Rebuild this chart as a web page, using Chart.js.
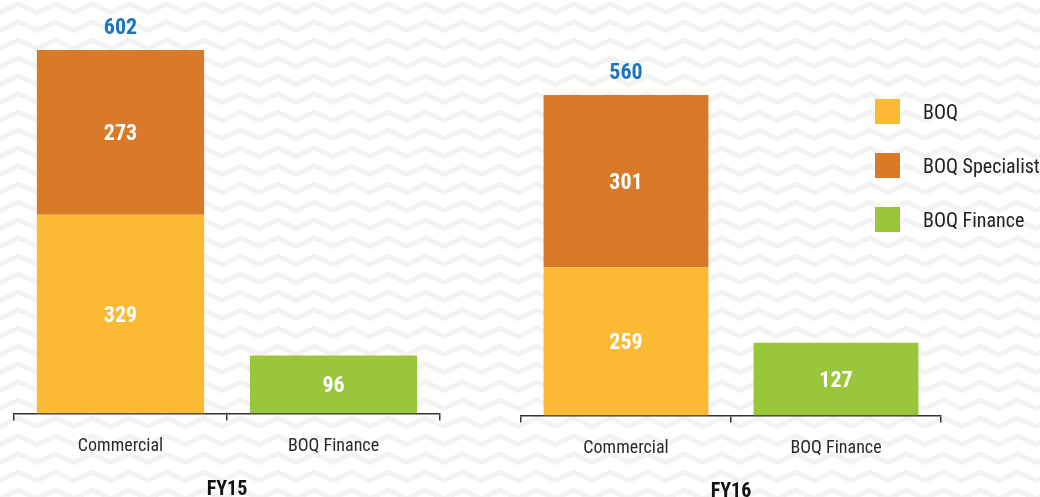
<!DOCTYPE html>
<html lang="en">
<head>
<meta charset="UTF-8">
<title>BOQ Commercial</title>
<script src="https://cdn.jsdelivr.net/npm/chart.js"></script>
<style>
  html, body { margin: 0; padding: 0; }
  body {
    width: 1040px; height: 497px; overflow: hidden; position: relative;
    background-color: #fff;
    background-image: url("data:image/svg+xml,%3Csvg xmlns='http://www.w3.org/2000/svg' width='37' height='18'%3E%3Cpath d='M-1 13 L18.5 4 L38 13' stroke='%23f3f3f3' stroke-width='5' fill='none'/%3E%3C/svg%3E");
    font-family: "Roboto Condensed", "Liberation Sans", sans-serif;
  }
  .panel { position: absolute; }
  #legend { position: absolute; left: 875px; top: 99px; }
  .item { display: flex; align-items: center; height: 25px; margin-bottom: 29px; }
  .box { width: 25px; height: 25px; margin-right: 23px; }
  .item span { font-size: 20px; color: #222; white-space: nowrap; }
</style>
</head>
<body>
<div class="panel" style="left:0;top:0;width:460px;height:500px;"><canvas id="fy15"></canvas></div>
<div class="panel" style="left:500px;top:7px;width:460px;height:495px;"><canvas id="fy16"></canvas></div>
<div id="legend"></div>

<script>
const categories = ["Commercial", "BOQ Finance"];
const seriesNames = ["BOQ", "BOQ Specialist", "BOQ Finance"];
const seriesColors = ["#FBB934", "#D97A29", "#99C63A"];

// FY15
const fy15Boq = [329, null];
const fy15Specialist = [273, null];
const fy15Finance = [null, 96];
const fy15Total = [602, null];

// FY16
const fy16Boq = [259, null];
const fy16Specialist = [301, null];
const fy16Finance = [null, 127];
const fy16Total = [560, null];

const FONT = '"Roboto Condensed", "Liberation Sans", sans-serif';

// draws the numbers inside the bars and the totals on top
const valueLabels = {
  id: 'valueLabels',
  afterDatasetsDraw(chart) {
    const ctx = chart.ctx;
    ctx.save();
    ctx.textAlign = 'center';
    ctx.textBaseline = 'middle';
    ctx.font = 'bold 22px ' + FONT;
    chart.data.datasets.forEach((ds, i) => {
      const meta = chart.getDatasetMeta(i);
      meta.data.forEach((bar, j) => {
        const v = ds.data[j];
        if (v == null) return;
        ctx.fillStyle = '#fff';
        ctx.fillText(v, bar.x, (bar.y + bar.base) / 2 + 2);
      });
    });
    const totals = chart.options.plugins.valueLabels.totals;
    const topMeta = chart.getDatasetMeta(1);
    totals.forEach((t, j) => {
      if (t == null) return;
      const bar = topMeta.data[j];
      ctx.fillStyle = '#1F74BE';
      ctx.fillText(t, bar.x, bar.y - 22);
    });
    ctx.restore();
  }
};

function makeChart(id, boq, spec, fin, totals, title, padTop, padLeft, padRight) {
  new Chart(document.getElementById(id), {
    type: 'bar',
    data: {
      labels: categories,
      datasets: [
        { label: seriesNames[0], data: boq, backgroundColor: seriesColors[0] },
        { label: seriesNames[1], data: spec, backgroundColor: seriesColors[1] },
        { label: seriesNames[2], data: fin, backgroundColor: seriesColors[2] }
      ]
    },
    options: {
      responsive: true,
      maintainAspectRatio: false,
      animation: false,
      layout: { padding: { top: padTop, left: padLeft, right: padRight, bottom: 0 } },
      datasets: { bar: { categoryPercentage: 1, barPercentage: 0.785 } },
      plugins: {
        legend: { display: false },
        tooltip: { enabled: false },
        valueLabels: { totals: totals }
      },
      scales: {
        x: {
          stacked: true,
          border: { display: true, color: '#333', width: 1.5 },
          grid: { offset: true, drawOnChartArea: false, tickLength: 7, color: '#333', lineWidth: 1.5 },
          ticks: { color: '#2a2a2a', padding: 15, font: { family: FONT, size: 18 } },
          title: {
            display: true, text: title, color: '#111',
            font: { family: FONT, size: 20, weight: 'bold', lineHeight: 1 },
            padding: { top: 8, bottom: 0 }
          }
        },
        y: { stacked: true, display: false, min: 0, max: totals[0] }
      }
    },
    plugins: [valueLabels]
  });
}

makeChart('fy15', fy15Boq, fy15Specialist, fy15Finance, fy15Total, 'FY15', 50, 14, 20);
makeChart('fy16', fy16Boq, fy16Specialist, fy16Finance, fy16Total, 'FY16', 88, 21, 19);

const legend = document.getElementById('legend');
seriesNames.forEach((n, i) => {
  const d = document.createElement('div');
  d.className = 'item';
  d.innerHTML = '<div class="box" style="background:' + seriesColors[i] + '"></div><span>' + n + '</span>';
  legend.appendChild(d);
});
</script>
</body>
</html>
